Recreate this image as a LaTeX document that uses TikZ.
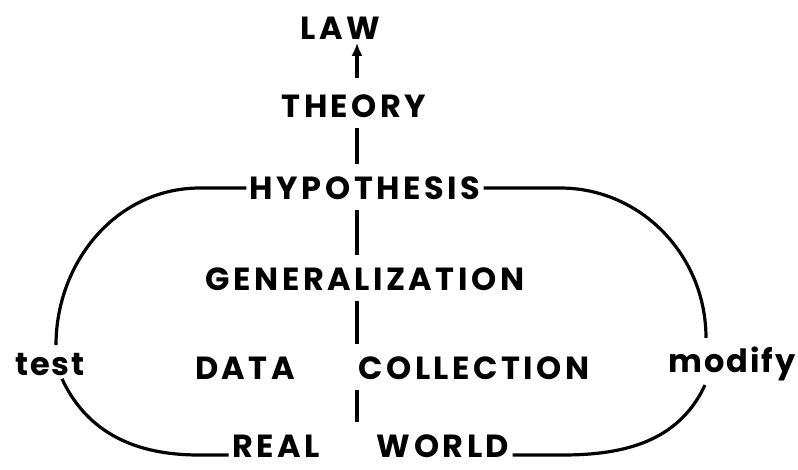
\documentclass[tikz,border=0pt]{standalone}
\usepackage{fontspec}
\setmainfont{Poppins}
\newfontfamily\diagfont{Poppins}[LetterSpace=11]
\newfontfamily\sidefont{Poppins}[LetterSpace=6]
\usetikzlibrary{arrows.meta}

\begin{document}
\begin{tikzpicture}[x=1pt,y=-1pt,>={Latex[length=13pt,width=11pt]},line width=3.2pt,
	every node/.style={font=\diagfont\bfseries\fontsize{32}{32}\selectfont,inner sep=2pt},
	side/.style={font=\sidefont\bfseries\fontsize{32}{32}\selectfont,anchor=base},
	rung/.style={shorten <=7pt,shorten >=9pt}]
	\useasboundingbox (0,0) rectangle (798,470);
	
	% Draw the ladder of terms
	\node (law) at (340,28) {LAW};
	\node (theory) at (354,106) {THEORY};
	\node (hyp) at (365,188) {HYPOTHESIS};
	\node (gen) at (365,279) {GENERALIZATION};
	\node (data) at (245,368) {DATA};
	\node (coll) at (474,368) {COLLECTION};
	\node (real) at (276,446) {REAL};
	\node (world) at (443,446) {WORLD};
	
	% Draw the side words
	\node[side] (test) at (50,375) {test};
	\node[side] (modify) at (732,373) {modify};
	
	% Draw the spine
	\coordinate (spine) at (357,0);
	\draw[->,shorten <=13pt] (spine |- theory.north) -- (spine |- law.south);
	\draw[rung] (spine |- theory.south) -- (spine |- hyp.north);
	\draw[rung] (spine |- hyp.south) -- (spine |- gen.north);
	\draw[rung] (spine |- gen.south) -- (spine |- coll.north);
	\draw[rung] (spine |- coll.south) -- (spine |- real.north);
	
	% Draw the loop on the left
	\draw (hyp.west) -- (200,188) to[out=180,in=90] ([xshift=6pt,yshift=4pt]test.north);
	\draw ([xshift=12pt]test.south) to[out=-65,in=180] ([xshift=-30pt,yshift=-9pt]real.west) -- ([yshift=-9pt]real.west);
	
	% Draw the loop on the right
	\draw (hyp.east) -- (560,188) to[out=0,in=90] ([xshift=-26pt,yshift=6pt]modify.north);
	\draw ([xshift=-27pt]modify.south) to[out=-115,in=0] ([xshift=50pt,yshift=-9pt]world.east) -- ([yshift=-9pt]world.east);
\end{tikzpicture}
\end{document}
